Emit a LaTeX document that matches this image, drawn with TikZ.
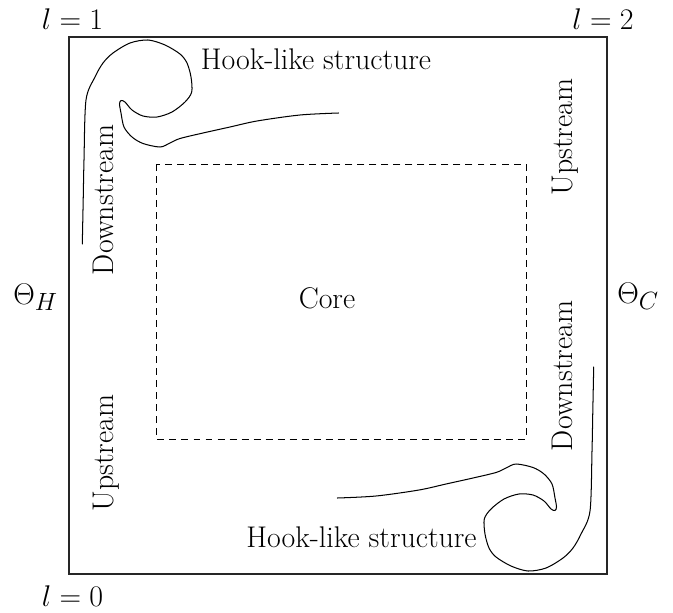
\documentclass[tikz,border=0pt]{standalone}
\begin{document}
\begin{tikzpicture}[x=0.832pt,y=-0.832pt,
  every node/.style={inner sep=0pt, font=\Huge},
  lbl/.style={anchor=base},
  vlbl/.style={anchor=base, rotate=90},
  hook/.style={line width=0.85pt, line join=round, line cap=round},
  frame/.style={line width=1pt, draw=black!85},
  corebox/.style={line width=0.75pt, dash pattern=on 5.8pt off 4.2pt}]
\useasboundingbox (0,0) rectangle (673,612);
% enclosure and core
\draw[frame] (69,37) rectangle (607,574);
\draw[corebox] (156,164) rectangle (526,439);
% corner labels
\node[lbl] (l1) at (72.5,30) {$l=1$};
\node[lbl] (l2) at (603,30) {$l=2$};
\node[lbl] (l0) at (72.5,606.5) {$l=0$};
\node[lbl] (th) at (35.5,304) {$\Theta_H$};
\node[lbl] (tc) at (638,303) {$\Theta_C$};
\node[lbl] (core) at (327,308) {Core};
\node[lbl] (hk1) at (316,70) {Hook-like structure};
\node[lbl] (hk2) at (361.5,547) {Hook-like structure};
\node[vlbl] (ds1) at (113,200) {Downstream};
\node[vlbl] (us1) at (113,453) {Upstream};
\node[vlbl] (us2) at (572,137) {Upstream};
\node[vlbl] (ds2) at (572,376) {Downstream};
% hooks
\def\hookpath{plot[smooth, tension=0.5] coordinates {
 (82.3,244) (83.2,200) (84,160) (86,100) (95,77) (103,63) (113,53) (130,43)
 (148,40) (165,45) (180,54) (187,63) (191,77) (191.7,92) (185,102) (172,112)
 (157,117) (143,116) (132,110) (125,102) (121,100.5) (119.5,104) (121,113)
 (124,127) (132,137) (143,143.5) (160,147) (170,143) (180,138.5) (203,133)
 (230,127) (257,121) (300,115) (338.6,113)}}
\draw[hook] \hookpath;
\begin{scope}[rotate around={180:(338,305.5)}]
\draw[hook] \hookpath;
\end{scope}
\end{tikzpicture}
\end{document}
